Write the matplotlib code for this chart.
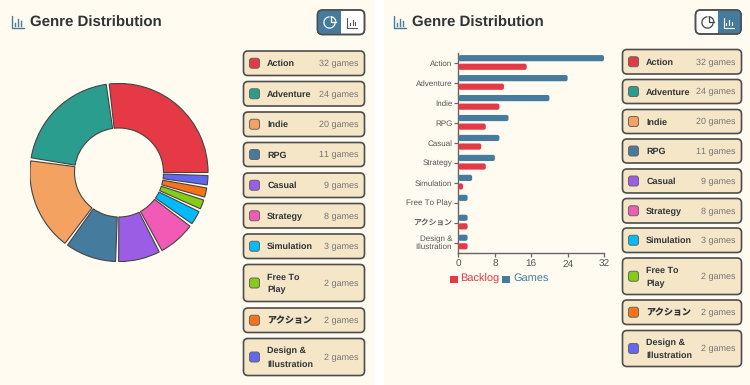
import numpy as np
import matplotlib
matplotlib.use("Agg")
import matplotlib.pyplot as plt
from matplotlib.patches import Wedge, FancyBboxPatch, Rectangle, Arc

genres = ["Action", "Adventure", "Indie", "RPG", "Casual", "Strategy", "Simulation",
          "Free To Play", "アクション", "Design & Illustration"]
card_labels = ["Action", "Adventure", "Indie", "RPG", "Casual", "Strategy", "Simulation",
               "Free To\nPlay", "アクション", "Design &\nIllustration"]
tick_labels = ["Action", "Adventure", "Indie", "RPG", "Casual", "Strategy", "Simulation",
               "Free To Play", "アクション", "Design &\nIllustration"]
games = [32, 24, 20, 11, 9, 8, 3, 2, 2, 2]
backlog = [15, 10, 9, 6, 5, 6, 1, 0, 2, 2]
colors = ["#E63946", "#2A9D8F", "#F4A261", "#457B9D", "#9B5DE5", "#F15BB5", "#00BBF9",
          "#84CC16", "#F97316", "#6366F1"]
x_ticks = [0, 8, 16, 24, 32]

BG = "#FFFBF0"
BLUE = "#457B9D"
RED = "#E63946"
DARK = "#2F3437"
EDGE = "#4D4D4D"
CARD = "#F5E6C8"
FONT = ["Liberation Sans", "Noto Sans CJK JP", "DejaVu Sans"]
plt.rcParams["font.family"] = FONT
plt.rcParams["text.hinting"] = "none"
plt.rcParams["text.hinting_factor"] = 1

W, H = 750, 385
px = 0.72  # points per pixel at dpi 100
fig = plt.figure(figsize=(W / 100, H / 100), dpi=100, facecolor="white")

ui = fig.add_axes([0, 0, 1, 1], zorder=0)
ui.set_xlim(0, W)
ui.set_ylim(H, 0)
ui.axis("off")


def rrect(x0, y0, x1, y1, r, fc, ec="none", lw=0, z=2):
    p = FancyBboxPatch((x0 + r, y0 + r), x1 - x0 - 2 * r, y1 - y0 - 2 * r,
                       boxstyle=f"round,pad={r},rounding_size={r}",
                       fc=fc, ec=ec, lw=lw, zorder=z)
    ui.add_patch(p)
    return p


def bars_icon(x, y, s, color, lw=1.0):
    ui.plot([x, x, x + s], [y, y + s, y + s], color=color, lw=lw, solid_capstyle="round", zorder=6)
    for f, h in [(0.28, 0.3), (0.55, 0.75), (0.82, 0.5)]:
        ui.plot([x + f * s] * 2, [y + s - 2.5, y + s - 2.5 - h * (s - 3)], color=color, lw=lw, zorder=6)


def pie_icon(cx, cy, r, color, lw=0.9):
    ui.add_patch(Arc((cx, cy), 2 * r, 2 * r, theta1=0, theta2=270, color=color, lw=lw, zorder=6))
    rr = r * 0.95
    verts = [(cx + 1, cy - rr - 0.5), (cx + 1, cy - 0.5), (cx + rr + 1.5, cy - 0.5)]
    ui.add_patch(Arc((cx + 1, cy - 0.5), 2 * rr, 2 * rr, theta1=270, theta2=360, color=color, lw=lw, zorder=6))
    ui.plot([v[0] for v in verts], [v[1] for v in verts], color=color, lw=lw, zorder=6)


def header(x_off):
    bars_icon(x_off + 11.5, 16, 12, BLUE, 1.0)
    ui.text(x_off + 30.5, 22.8, "Genre Distribution", fontsize=14.8 * px, fontweight="bold",
            color=DARK, va="center", ha="left", zorder=6)


def toggle(x0, x1, y0, y1, active):
    xm = (x0 + x1) / 2
    rrect(x0, y0, x1, y1, 5, "white", EDGE, 1.1, z=3)
    clip = rrect(x0, y0, x1, y1, 5, BLUE, "none", 0, z=4)
    if active == "pie":
        clip.set_clip_path(Rectangle((x0 - 1, y0 - 1), xm - x0 + 1, y1 - y0 + 2, transform=ui.transData))
    else:
        clip.set_clip_path(Rectangle((xm, y0 - 1), x1 - xm + 1, y1 - y0 + 2, transform=ui.transData))
    rrect(x0, y0, x1, y1, 5, "none", EDGE, 1.1, z=5)
    pie_icon(x0 + 12, 22.5, 5.6, "white" if active == "pie" else "#444444")
    bars_icon(x1 - 17.5, 17.5, 10, "white" if active == "bar" else "#555555", 0.8)


def cards(x0, x1, rows):
    for lab, n, c, (y0, y1) in zip(card_labels, games, colors, rows):
        rrect(x0, y0, x1, y1, 4.5, CARD, EDGE, 1.2)
        ym = (y0 + y1) / 2
        rrect(x0 + 6, ym - 5, x0 + 16, ym + 5, 2.5, c, "#666666", 0.7, z=3)
        ui.text(x0 + 23.7, ym + 0.6, lab, fontsize=9 * px, fontweight="bold", color=DARK,
                va="center", ha="left", linespacing=1.7, zorder=4)
        ui.text(x1 - 6, ym + 0.6, f"{n} games", fontsize=9 * px, color="#757575",
                va="center", ha="right", zorder=4)


ui.add_patch(Rectangle((0, 0), 375, H, fc=BG, ec="none", zorder=0))
ui.add_patch(Rectangle((384, 0), W - 384, H, fc=BG, ec="none", zorder=0))

header(0)
header(382)
toggle(317.5, 364.5, 10, 34.5, "pie")
toggle(695.5, 741, 10, 34, "bar")

rows_left = [(51, 75.5), (81.5, 106), (112, 136.5), (142.5, 166.5), (173, 197.5), (203.5, 228),
             (234, 258.5), (264.5, 301.5), (308, 332.5), (338.5, 375.5)]
rows_right = [(49.5, 74), (79.5, 103.5), (109.5, 133.5), (139, 163), (169, 193), (198.5, 223),
              (228, 252.5), (258, 294.5), (300, 324.5), (330.5, 366.5)]
cards(243.5, 364.5, rows_left)
cards(622.5, 741.5, rows_right)

donut = fig.add_axes([29.5 / W, 1 - 262 / H, 179 / W, 179 / H], zorder=1)
donut.set_xlim(-1, 1)
donut.set_ylim(-1, 1)
donut.axis("off")
donut.patch.set_alpha(0)
pad = 2.0
unit = (360 - pad * len(games)) / sum(games)
start = 0.0
for v, c in zip(games, colors):
    end = start + v * unit
    donut.add_patch(Wedge((0, 0), 0.995, start, end, width=0.995 - 44.5 / 89.5,
                          fc=c, ec="#444444", lw=0.8))
    start = end + pad

ax = fig.add_axes([458.5 / W, 1 - 252.5 / H, 145.5 / W, 199.5 / H], zorder=1)
ax.patch.set_alpha(0)
ax.set_xlim(0, 32)
ax.set_ylim(len(genres), 0)
y = np.arange(len(genres)) + 0.5
bh = 0.31
x_per_px = 32 / 145.5
y_per_px = len(genres) / 199.5
asp = y_per_px / x_per_px
rad = 2.0 * x_per_px


def hbar(series, offset, color):
    for yi, v in zip(y, series):
        if v <= 0:
            continue
        ax.add_patch(FancyBboxPatch((rad, yi + offset - bh / 2 + rad * asp),
                                    v - 2 * rad, bh - 2 * rad * asp,
                                    boxstyle=f"round,pad={rad},rounding_size={rad}",
                                    mutation_aspect=asp, fc=color, ec="none", clip_on=False, zorder=3))


hbar(games, -0.24, BLUE)
hbar(backlog, 0.19, RED)

for s in ["top", "right"]:
    ax.spines[s].set_visible(False)
for s in ["left", "bottom"]:
    ax.spines[s].set_color("#666666")
    ax.spines[s].set_linewidth(1.0)
ax.set_xticks(x_ticks)
ax.set_xticklabels([str(t) for t in x_ticks], fontsize=10.5 * px, color="#555555")
ax.set_yticks(y)
ax.set_yticklabels(tick_labels, fontsize=7.8 * px, color="#555555", linespacing=1.0)
ax.tick_params(axis="x", length=3, width=0.9, color="#666666", pad=2)
ax.tick_params(axis="y", length=3, width=0.9, color="#666666", pad=1.5)

ui.add_patch(Rectangle((449.5, 275.5), 8, 7, fc=RED, ec="none", zorder=4))
ui.text(460.5, 278.5, "Backlog", fontsize=10.6 * px, color=RED, va="center", ha="left", zorder=4)
ui.add_patch(Rectangle((502, 275.5), 8, 7, fc=BLUE, ec="none", zorder=4))
ui.text(513.5, 278.5, "Games", fontsize=10.6 * px, color=BLUE, va="center", ha="left", zorder=4)

fig.savefig("out.png", dpi=100, facecolor="white")
